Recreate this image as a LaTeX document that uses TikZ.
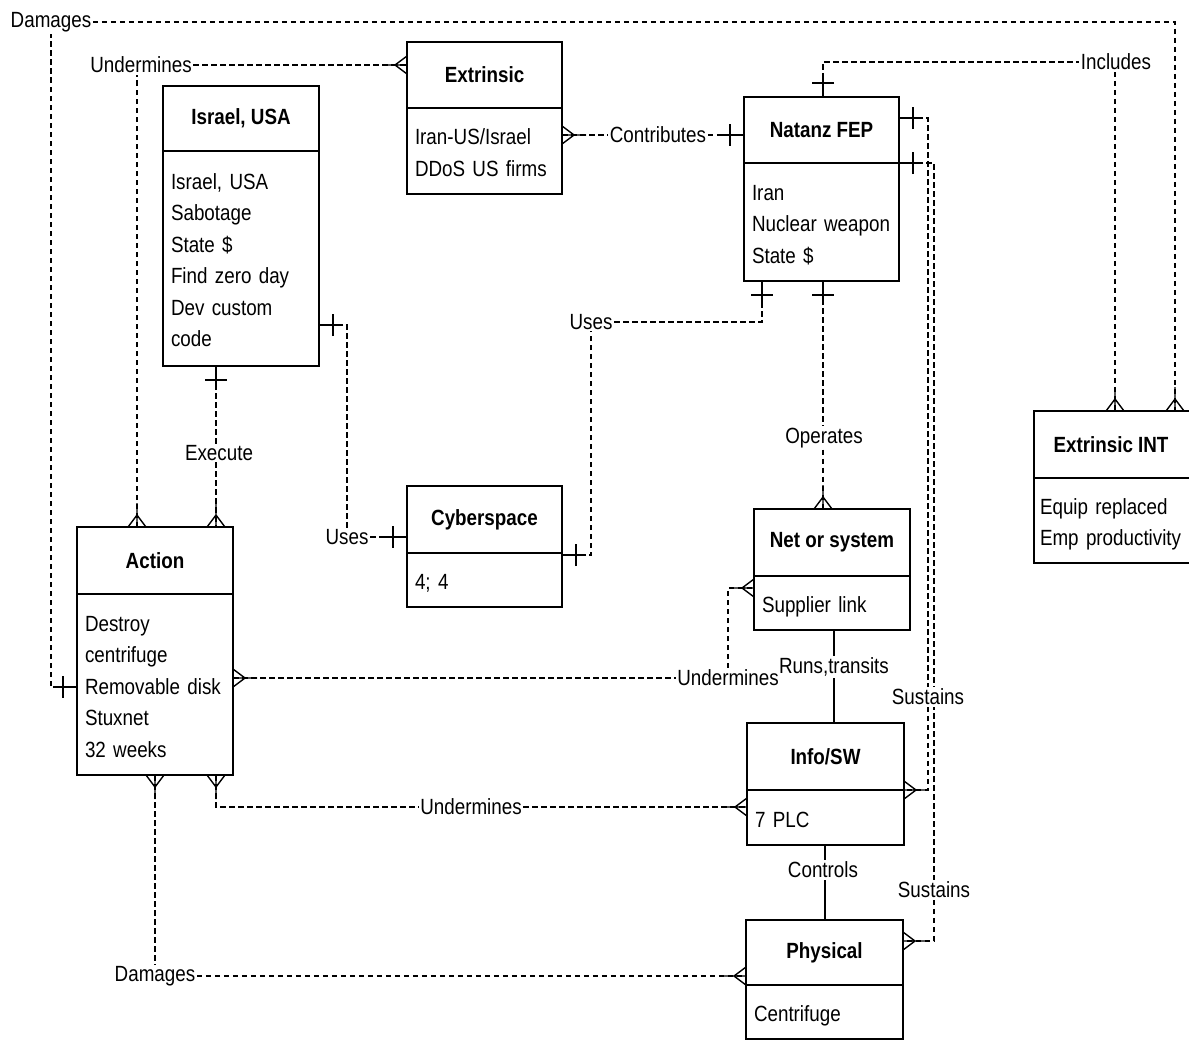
\documentclass[tikz,border=0pt]{standalone}
\usepackage{fontspec}
\setmainfont{Liberation Sans}[FakeStretch=0.855]
\usetikzlibrary{backgrounds}
% strut that fixes the height of each attribute line
\newcommand\rowstrut{\rule[-5pt]{0pt}{29pt}}
% attribute lines are never hyphenated
\hyphenpenalty=10000
\exhyphenpenalty=10000
\begin{document}
\begin{tikzpicture}[x=1pt,y=-1pt,
  ehead/.style={draw, line width=1.8pt, rectangle, anchor=north west, inner sep=0pt, outer sep=0pt,
                font=\fontsize{22pt}{31.5pt}\selectfont\bfseries},
  ebody/.style={draw, line width=1.8pt, rectangle, anchor=north west, inner xsep=8pt,
                inner ysep=0pt, outer sep=0pt, align=left,
                font=\fontsize{22pt}{31.5pt}\selectfont},
  lbl/.style={fill=white, inner sep=1.5pt, font=\fontsize{22pt}{26pt}\selectfont},
  conn/.style={line width=1.4pt, dash pattern=on 5.5pt off 3.5pt},
  ident/.style={line width=1.5pt},
  pics/onebar/.style={code={\draw[line width=1.4pt] (-24,0)--(0,0) (-14,-11)--(-14,11);}},
  pics/crowfoot/.style={code={\draw[line width=1.4pt] (-24,0)--(0,0) (0,-9)--(-12,0)--(0,9);}}
]
\useasboundingbox (0,0) rectangle (1189,1041);

% ---------- entities ----------
\node[ehead, minimum width=156pt, minimum height=65pt] (isrH) at (163,86) {Israel, USA};
\node[ebody, text width=140pt, minimum height=215pt] (isrB) at (isrH.south west)
  {\rowstrut Israel, USA\\\rowstrut Sabotage\\\rowstrut State \$\\\rowstrut Find zero day\\\rowstrut Dev custom\\\rowstrut code};

\node[ehead, minimum width=155pt, minimum height=66pt] (extH) at (407,42) {Extrinsic};
\node[ebody, text width=139pt, minimum height=86pt] (extB) at (extH.south west)
  {\rowstrut Iran-US/Israel\\\rowstrut DDoS US firms};

\node[ehead, minimum width=155pt, minimum height=66pt] (natH) at (744,97) {Natanz FEP};
\node[ebody, text width=139pt, minimum height=118pt] (natB) at (natH.south west)
  {\rowstrut Iran\\\rowstrut Nuclear weapon\\\rowstrut State \$};

\node[ehead, minimum width=155pt, minimum height=67pt] (cybH) at (407,486) {Cyberspace};
\node[ebody, text width=139pt, minimum height=54pt] (cybB) at (cybH.south west) {\rowstrut 4; 4};

\node[ehead, minimum width=156pt, minimum height=67pt] (actH) at (77,527) {Action};
\node[ebody, text width=140pt, minimum height=181pt] (actB) at (actH.south west)
  {\rowstrut Destroy\\\rowstrut centrifuge\\\rowstrut Removable disk\\\rowstrut Stuxnet\\\rowstrut 32 weeks};

\node[ehead, minimum width=156pt, minimum height=67pt] (netH) at (754,509) {Net or system};
\node[ebody, text width=140pt, minimum height=54pt] (netB) at (netH.south west) {\rowstrut Supplier link};

\node[ehead, minimum width=157pt, minimum height=67pt] (infH) at (747,723) {Info/SW};
\node[ebody, text width=141pt, minimum height=55pt] (infB) at (infH.south west) {\rowstrut 7 PLC};

\node[ehead, minimum width=157pt, minimum height=65pt] (phyH) at (746,920) {Physical};
\node[ebody, text width=141pt, minimum height=54pt] (phyB) at (phyH.south west) {\rowstrut Centrifuge};

\node[ehead, minimum width=158pt, minimum height=67pt] (eiH) at (1034,411) {\hspace*{-4pt}Extrinsic INT};
\node[ebody, text width=146pt, inner xsep=6pt, minimum height=85pt] (eiB) at (eiH.south west)
  {\rowstrut Equip replaced\\\rowstrut Emp productivity};

% ---------- relationship labels ----------
\node[lbl] (dmgT)  at (51,22)   {Damages};
\node[lbl] (undT)  at (141,65)  {Undermines};
\node[lbl] (contr) at (658,135) {Contributes};
\node[lbl] (incl)  at (1116,62) {Includes};
\node[lbl] (exec)  at (219,453) {Execute};
\node[lbl] (usesL) at (347,537) {Uses};
\node[lbl] (usesR) at (591,322) {Uses};
\node[lbl] (oper)  at (824,438) {Operates};
\node[lbl] (undM)  at (728,678) {Undermines};
\node[lbl] (runs)  at (834,667) {Runs,transits};
\node[lbl] (sus1)  at (928,697) {Sustains};
\node[lbl] (undB)  at (471,807) {Undermines};
\node[lbl] (ctrl)  at (823,870) {Controls};
\node[lbl] (sus2)  at (934,890) {Sustains};
\node[lbl] (dmgB)  at (155,976) {Damages};

% ---------- attachment points on the entity borders ----------
\coordinate (aT1) at ([xshift=60pt]actH.north west);
\coordinate (aT2) at ([xshift=139pt]actH.north west);
\coordinate (aL)  at ([yshift=-2.5pt]actB.west);
\coordinate (aR)  at ([yshift=6.5pt]actB.east);
\coordinate (aB1) at (actB.south);
\coordinate (aB2) at ([xshift=139pt]actB.south west);
\coordinate (iB)  at ([xshift=53pt]isrB.south west);
\coordinate (iR)  at ([yshift=41pt]isrB.south east);
\coordinate (eL)  at ([yshift=10pt]extH.west);
\coordinate (eR)  at ([yshift=16pt]extB.east);
\coordinate (nL)  at ([yshift=-5pt]natH.west);
\coordinate (nT)  at ([xshift=79pt]natH.north west);
\coordinate (nR1) at ([yshift=-21pt]natH.north east);
\coordinate (nR2) at (natH.south east);
\coordinate (nB1) at ([xshift=18pt]natB.south west);
\coordinate (nB2) at ([xshift=79pt]natB.south west);
\coordinate (cL)  at ([yshift=-17.5pt]cybH.west);
\coordinate (cR)  at ([yshift=-2pt]cybB.north east);
\coordinate (sT)  at ([xshift=69pt]netH.north west);
\coordinate (sL)  at ([yshift=-12pt]netB.north west);
\coordinate (sB)  at ([xshift=80pt]netB.south west);
\coordinate (wT)  at ([xshift=87pt]infH.north west);
\coordinate (wL)  at ([yshift=-17pt]infB.north west);
\coordinate (wR)  at (infB.north east);
\coordinate (wB)  at ([xshift=78pt]infB.south west);
\coordinate (pT)  at ([xshift=79pt]phyH.north west);
\coordinate (pL)  at ([yshift=9pt]phyH.south west);
\coordinate (pR)  at ([yshift=-21pt]phyH.north east);
\coordinate (xT1) at ([xshift=81pt]eiH.north west);
\coordinate (xT2) at ([xshift=141pt]eiH.north west);

% ---------- connectors ----------
\begin{scope}[on background layer]
\fill[white] (0,0) rectangle (1189,1041);

% Damages: Action -- Extrinsic INT
\draw[conn] (aL) -| (dmgT.south);
\draw[conn] (dmgT.east) -| (xT2);
% Undermines: Action -- Extrinsic
\draw[conn] (aT1) -- (aT1 |- undT.south);
\draw[conn] (undT.east) -- (eL);
% Execute: Israel, USA -- Action
\draw[conn] (iB) -- (iB |- exec.north);
\draw[conn] (iB |- exec.south) -- (aT2);
% Uses: Israel, USA -- Cyberspace
\draw[conn] (iR) -| (usesL.north);
\draw[conn] (usesL.east) -- (cL);
% Uses: Cyberspace -- Natanz FEP
\draw[conn] (cR) -| (usesR.south);
\draw[conn] (usesR.east) -| (nB1);
% Contributes: Extrinsic -- Natanz FEP
\draw[conn] (eR) -- (contr.west);
\draw[conn] (contr.east) -- (nL);
% Includes: Natanz FEP -- Extrinsic INT
\draw[conn] (nT) |- (incl.west);
\draw[conn] (xT1 |- incl.south) -- (xT1);
% Operates: Natanz FEP -- Net or system
\draw[conn] (nB2) -- (nB2 |- oper.north);
\draw[conn] (nB2 |- oper.south) -- (sT);
% Undermines: Action -- Net or system
\draw[conn] (aR) -- (undM.west);
\draw[conn] (undM.north) |- (sL);
% Runs,transits: Net or system -- Info/SW
\draw[ident] (sB) -- (sB |- runs.north);
\draw[ident] (sB |- runs.south) -- (wT);
% Sustains: Natanz FEP -- Info/SW
\draw[conn] (nR1) -| (sus1.north);
\draw[conn] (sus1.south) |- (wR);
% Sustains: Natanz FEP -- Physical
\draw[conn] (nR2) -| (sus2.north);
\draw[conn] (sus2.south) |- (pR);
% Undermines: Action -- Info/SW
\draw[conn] (aB2) |- (undB.west);
\draw[conn] (undB.east) -- (wL);
% Controls: Info/SW -- Physical
\draw[ident] (wB) -- (wB |- ctrl.north);
\draw[ident] (wB |- ctrl.south) -- (pT);
% Damages: Action -- Physical
\draw[conn] (aB1) -- (aB1 |- dmgB.north);
\draw[conn] (dmgB.east) -- (pL);

% cardinality marks
\pic[rotate=-90] at (aT1) {crowfoot};
\pic[rotate=-90] at (aT2) {crowfoot};
\pic at (aL) {onebar};
\pic[rotate=180] at (aR) {crowfoot};
\pic[rotate=90] at (aB1) {crowfoot};
\pic[rotate=90] at (aB2) {crowfoot};
\pic[rotate=90] at (iB) {onebar};
\pic[rotate=180] at (iR) {onebar};
\pic at (eL) {crowfoot};
\pic[rotate=180] at (eR) {crowfoot};
\pic at (nL) {onebar};
\pic[rotate=-90] at (nT) {onebar};
\pic[rotate=180] at (nR1) {onebar};
\pic[rotate=180] at (nR2) {onebar};
\pic[rotate=90] at (nB1) {onebar};
\pic[rotate=90] at (nB2) {onebar};
\pic at (cL) {onebar};
\pic[rotate=180] at (cR) {onebar};
\pic[rotate=-90] at (sT) {crowfoot};
\pic at (sL) {crowfoot};
\pic at (wL) {crowfoot};
\pic[rotate=180] at (wR) {crowfoot};
\pic at (pL) {crowfoot};
\pic[rotate=180] at (pR) {crowfoot};
\pic[rotate=-90] at (xT1) {crowfoot};
\pic[rotate=-90] at (xT2) {crowfoot};
\end{scope}
\end{tikzpicture}
\end{document}
